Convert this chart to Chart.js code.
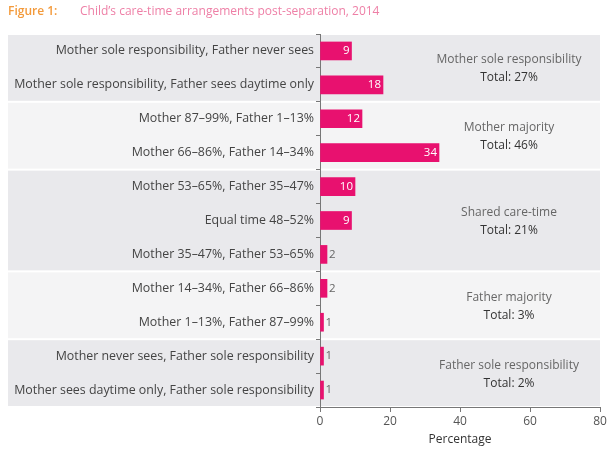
<!DOCTYPE html>
<html>
<head>
<meta charset="utf-8">
<script src="https://cdn.jsdelivr.net/npm/chart.js@4"></script>
<style>
  html, body { margin: 0; padding: 0; background: #fff; }
  #wrap { position: relative; width: 612px; height: 451px; }
  #title { position: absolute; left: 8px; top: 2px; font-family: "Open Sans", sans-serif; font-size: 12px; white-space: nowrap; }
  #title .fig { color: #F39A3B; font-weight: 600; }
  #title .txt { color: #EE7FA6; position: absolute; left: 72px; }
  canvas { position: absolute; left: 0; top: 0; }
</style>
</head>
<body>
<div id="wrap">
  <canvas id="chart" width="612" height="451"></canvas>
  <div id="title"><span class="fig">Figure 1:</span><span class="txt">Child’s care-time arrangements post-separation, 2014</span></div>
</div>
<script>
// Données
const categories = [
    'Mother sole responsibility, Father never sees',
    'Mother sole responsibility, Father sees daytime only',
    'Mother 87–99%, Father 1–13%',
    'Mother 66–86%, Father 14–34%',
    'Mother 53–65%, Father 35–47%',
    'Equal time 48–52%',
    'Mother 35–47%, Father 53–65%',
    'Mother 14–34%, Father 66–86%',
    'Mother 1–13%, Father 87–99%',
    'Mother never sees, Father sole responsibility',
    'Mother sees daytime only, Father sole responsibility'
];
const values = [9, 18, 12, 34, 10, 9, 2, 2, 1, 1, 1];
const groupNames = ['Mother sole responsibility', 'Mother majority', 'Shared care-time', 'Father majority', 'Father sole responsibility'];
const groupTotals = ['Total: 27%', 'Total: 46%', 'Total: 21%', 'Total: 3%', 'Total: 2%'];
const groupSizes = [2, 2, 3, 2, 2];
const xTicks = [0, 20, 40, 60, 80];

const PINK = '#E8116F';
const FONT = '"Open Sans", sans-serif';

// Bandes de fond + libellés de groupe
const groupBands = {
    id: 'groupBands',
    beforeDraw(chart) {
        const { ctx, chartArea, scales: { y } } = chart;
        const rowH = y.getPixelForValue(1) - y.getPixelForValue(0);
        let start = 0;
        ctx.save();
        groupSizes.forEach((n, g) => {
            const top = y.getPixelForValue(start) - rowH / 2;
            const bottom = y.getPixelForValue(start + n - 1) + rowH / 2;
            ctx.fillStyle = g % 2 === 0 ? '#E9E9EC' : '#F4F4F5';
            ctx.fillRect(8, top + 1, chartArea.right - 8, bottom - top - 2);
            start += n;
        });
        ctx.restore();
    },
    afterDatasetsDraw(chart) {
        const { ctx, scales: { x, y } } = chart;
        const rowH = y.getPixelForValue(1) - y.getPixelForValue(0);
        const cx = x.getPixelForValue(54);
        let start = 0;
        ctx.save();
        ctx.textAlign = 'center';
        ctx.textBaseline = 'middle';
        ctx.font = '12px ' + FONT;
        groupSizes.forEach((n, g) => {
            const top = y.getPixelForValue(start) - rowH / 2;
            const bottom = y.getPixelForValue(start + n - 1) + rowH / 2;
            const mid = (top + bottom) / 2;
            ctx.fillStyle = '#666';
            ctx.fillText(groupNames[g], cx, mid - 8);
            ctx.fillStyle = '#333';
            ctx.fillText(groupTotals[g], cx, mid + 10);
            start += n;
        });

        // Valeurs sur les barres
        const meta = chart.getDatasetMeta(0);
        ctx.font = '11.5px ' + FONT;
        meta.data.forEach((bar, i) => {
            const v = values[i];
            if (v >= 9) {
                ctx.textAlign = 'right';
                ctx.fillStyle = '#fff';
                ctx.fillText(String(v), bar.x - 2, bar.y);
            } else {
                ctx.textAlign = 'left';
                ctx.fillStyle = '#666';
                ctx.fillText(String(v), bar.x + 2, bar.y);
            }
        });
        ctx.restore();
    }
};

new Chart(document.getElementById('chart'), {
    type: 'bar',
    data: {
        labels: categories,
        datasets: [{
            data: values,
            backgroundColor: PINK,
            barThickness: 18,
            borderWidth: 0
        }]
    },
    options: {
        indexAxis: 'y',
        responsive: false,
        animation: false,
        layout: { padding: { top: 34, right: 12, left: 0, bottom: 0 } },
        plugins: {
            legend: { display: false },
            tooltip: { enabled: false }
        },
        scales: {
            x: {
                min: 0,
                max: 80,
                afterBuildTicks(scale) { scale.ticks = xTicks.map(v => ({ value: v })); },
                afterFit(scale) { scale.height = 44; },
                grid: { drawOnChartArea: false, tickLength: 5, color: '#777' },
                border: { color: '#777', width: 1 },
                ticks: { color: '#555', font: { family: FONT, size: 12 }, padding: 2 },
                title: { display: true, text: 'Percentage', color: '#333', font: { family: FONT, size: 12 }, padding: { top: 1 } }
            },
            y: {
                afterFit(scale) { scale.width = 320; },
                grid: { offset: true, drawOnChartArea: false, tickLength: 4, color: '#777' },
                border: { color: '#777', width: 1 },
                ticks: { color: '#444', font: { family: FONT, size: 12.4 }, padding: 2 }
            }
        }
    },
    plugins: [groupBands]
});
</script>
</body>
</html>
